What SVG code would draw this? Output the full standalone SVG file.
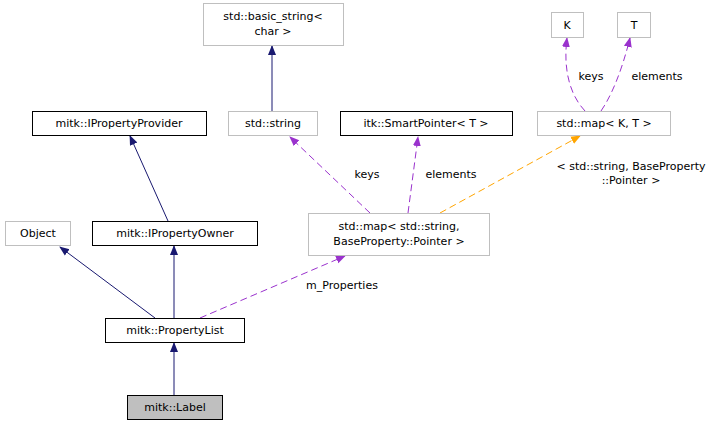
<svg xmlns="http://www.w3.org/2000/svg" width="725" height="425" viewBox="0 0 725 425">
<style>
text{font-family:"DejaVu Sans",sans-serif;font-size:11px;fill:#000;text-anchor:middle}
.b{fill:#fff;stroke:#000}
.g{fill:#fff;stroke:#bfbfbf}
.s{fill:none;stroke:#191970}
.p{fill:none;stroke:#9a32cd;stroke-dasharray:7,4}
.o{fill:none;stroke:#ffa500;stroke-dasharray:7,4}
</style>
<defs>
<marker id="an" markerWidth="10" markerHeight="10" refX="9" refY="5" orient="auto" markerUnits="userSpaceOnUse"><path d="M0,1L10,5L0,9z" fill="#191970"/></marker>
<marker id="ap" markerWidth="10" markerHeight="10" refX="9" refY="5" orient="auto" markerUnits="userSpaceOnUse"><path d="M0,1L10,5L0,9z" fill="#9a32cd"/></marker>
<marker id="ao" markerWidth="10" markerHeight="10" refX="9" refY="5" orient="auto" markerUnits="userSpaceOnUse"><path d="M0,1L10,5L0,9z" fill="#ffa500"/></marker>
</defs>
<g id="edges">
<path class="s" d="M272,111L272,46" marker-end="url(#an)"/>
<path class="s" d="M168,221L130,136" marker-end="url(#an)"/>
<path class="s" d="M155,318L60,247" marker-end="url(#an)"/>
<path class="s" d="M174,318L174,246" marker-end="url(#an)"/>
<path class="s" d="M174,395L174,343" marker-end="url(#an)"/>
<path class="p" d="M200,318L345,256" marker-end="url(#ap)"/>
<text x="342" y="289">m_Properties</text>
<path class="p" d="M370,213L290,137" marker-end="url(#ap)"/>
<text x="367" y="178">keys</text>
<path class="p" d="M408,213L418,137" marker-end="url(#ap)"/>
<text x="451" y="178">elements</text>
<path class="o" d="M440,213L580,136" marker-end="url(#ao)"/>
<text x="631" y="170">&lt; std::string, BaseProperty</text>
<text x="631" y="184">::Pointer &gt;</text>
<path class="p" d="M585,111C570,95 563,70 567,38" marker-end="url(#ap)"/>
<text x="591" y="80">keys</text>
<path class="p" d="M601,111C612,95 622,70 630,38" marker-end="url(#ap)"/>
<text x="657" y="80">elements</text>
</g>
<g id="n_basic_string"><rect class="g" x="203.5" y="3.5" width="140" height="42"/><text x="273" y="20">std::basic_string&lt;</text><text x="273" y="35">char &gt;</text></g>
<g id="n_K"><rect class="g" x="551.5" y="12.5" width="32" height="25"/><text x="567" y="29">K</text></g>
<g id="n_T"><rect class="g" x="617.5" y="12.5" width="33" height="25"/><text x="634" y="29">T</text></g>
<g id="n_IPropertyProvider"><rect class="b" x="32.5" y="111.5" width="174" height="24"/><text x="119" y="127">mitk::IPropertyProvider</text></g>
<g id="n_string"><rect class="g" x="228.5" y="111.5" width="89" height="24"/><text x="273" y="127">std::string</text></g>
<g id="n_SmartPointer"><rect class="b" x="340.5" y="111.5" width="172" height="24"/><text x="426" y="127">itk::SmartPointer&lt; T &gt;</text></g>
<g id="n_mapKT"><rect class="g" x="537.5" y="111.5" width="133" height="24"/><text x="604" y="127">std::map&lt; K, T &gt;</text></g>
<g id="n_Object"><rect class="g" x="5.5" y="221.5" width="65" height="24"/><text x="38" y="237">Object</text></g>
<g id="n_IPropertyOwner"><rect class="b" x="92.5" y="221.5" width="165" height="24"/><text x="175" y="237">mitk::IPropertyOwner</text></g>
<g id="n_map"><rect class="g" x="308.5" y="213.5" width="181" height="42"/><text x="399" y="230">std::map&lt; std::string,</text><text x="399" y="245">BaseProperty::Pointer &gt;</text></g>
<g id="n_PropertyList"><rect class="b" x="105.5" y="318.5" width="139" height="24"/><text x="175" y="334">mitk::PropertyList</text></g>
<g id="n_Label"><rect x="127.5" y="395.5" width="95" height="24" fill="#bfbfbf" stroke="#000"/><text x="175" y="411">mitk::Label</text></g>
</svg>
